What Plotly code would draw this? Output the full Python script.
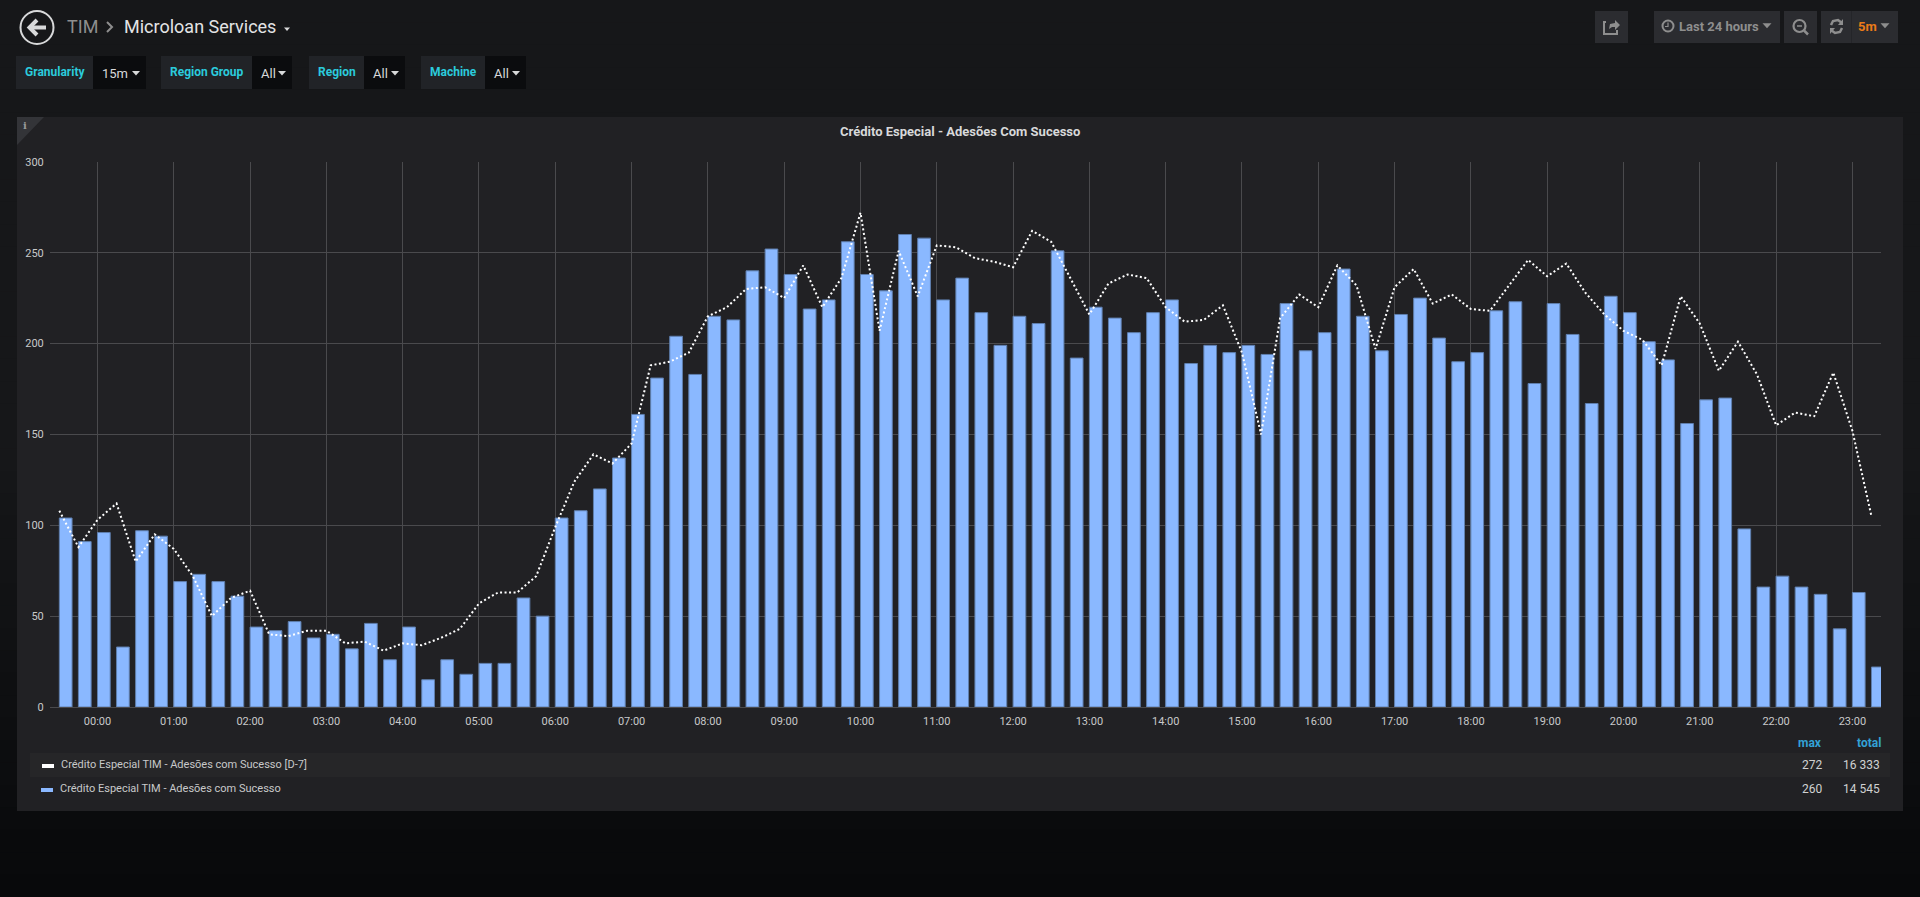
import pandas as pd
import plotly.graph_objects as go

W = 1920
H = 897

# one value per 15 minutes starting 23:30
success = [104, 91, 96, 33, 97, 94, 69, 73, 69, 61, 44, 42, 47, 38, 40, 32, 46, 26, 44, 15,
           26, 18, 24, 24, 60, 50, 104, 108, 120, 137, 161, 181, 204, 183, 215, 213, 240, 252, 238, 219,
           224, 256, 238, 229, 260, 258, 224, 236, 217, 199, 215, 211, 251, 192, 220, 214, 206, 217, 224, 189,
           199, 195, 199, 194, 222, 196, 206, 241, 215, 196, 216, 225, 203, 190, 195, 218, 223, 178, 222, 205,
           167, 226, 217, 201, 191, 156, 169, 170, 98, 66, 72, 66, 62, 43, 63, 22]
success_d7 = [108, 88, 103, 112, 80, 95, 87, 72, 50, 60, 64, 40, 39, 42, 42, 35, 36, 31, 35, 34,
              38, 43, 57, 63, 63, 72, 99, 124, 139, 134, 145, 188, 190, 195, 215, 220, 230, 231, 225, 243,
              220, 236, 272, 207, 251, 226, 254, 253, 247, 245, 242, 262, 256, 236, 216, 233, 238, 236, 220, 212,
              213, 221, 195, 150, 214, 227, 220, 243, 232, 197, 231, 241, 222, 227, 219, 218, 232, 246, 237, 244,
              228, 216, 207, 202, 188, 226, 211, 185, 201, 183, 155, 162, 160, 184, 152, 105]

start_time = "2019-01-01 23:30"
y_ticks = [0, 50, 100, 150, 200, 250, 300]
series_names = ["Crédito Especial TIM - Adesões com Sucesso [D-7]",
                "Crédito Especial TIM - Adesões com Sucesso"]
series_max = ["272", "260"]
series_total = ["16 333", "14 545"]
panel_title = "Crédito Especial - Adesões Com Sucesso"
variables = [("Granularity", "15m", 16, 93, 146),
             ("Region Group", "All", 161, 252, 292),
             ("Region", "All", 309, 364, 405),
             ("Machine", "All", 421, 485, 526)]

BAR = "#8ab8ff"
TEXT = "#d8d9da"
CYAN = "#2bcbdc"
FONT = "Roboto"


def px(x):
    return x / W


def py(y):
    return 1 - y / H


def rect(x0, y0, x1, y1, color, layer="below"):
    return dict(type="rect", xref="paper", yref="paper", x0=px(x0), x1=px(x1), y0=py(y0), y1=py(y1),
                fillcolor=color, line_width=0, layer=layer)


def poly(points, fill=None, line=None, width=1.5):
    path = "M " + " L ".join(f"{px(a)},{py(b)}" for a, b in points)
    if fill:
        path += " Z"
    return dict(type="path", xref="paper", yref="paper", path=path, fillcolor=fill,
                line=dict(color=line or "rgba(0,0,0,0)", width=width if line else 0), layer="above")


def ring(cx, cy, r, color, width=2):
    return dict(type="circle", xref="paper", yref="paper", x0=px(cx - r), x1=px(cx + r),
                y0=py(cy + r), y1=py(cy - r), line=dict(color=color, width=width), layer="above")


def caret(cx, cy, color="#d8d9da", size=4):
    return poly([(cx - size, cy - size / 2), (cx + size, cy - size / 2), (cx, cy + size / 2 + 0.5)], fill=color)


def label(x, y, text, size=12, color=TEXT, anchor="left", bold=False):
    return dict(xref="paper", yref="paper", x=px(x), y=py(y), text=f"<b>{text}</b>" if bold else text,
                showarrow=False, xanchor=anchor, yanchor="middle", borderpad=0,
                font=dict(family=FONT, size=size, color=color))


shapes = []
notes = []

# page background, flat on the upper half then fades down to almost black
steps = 40
for i in range(steps):
    t = max(0, (i / (steps - 1) - 0.5) * 2)
    c = [round(a + (b - a) * t) for a, b in zip((22, 23, 25), (8, 9, 11))]
    shapes.append(rect(0, H * i / steps, W, H * (i + 1) / steps + 1, f"rgb({c[0]},{c[1]},{c[2]})"))

# panel
shapes.append(rect(17, 117, 1903, 811, "#212124"))
shapes.append(rect(30, 753, 1890, 777, "#262628"))
shapes.append(poly([(17, 117), (44, 117), (17, 145)], fill="#333438"))
shapes[-1]["layer"] = "below"
notes.append(label(24.5, 125, "i", size=10, color="#9a9a9a", anchor="center", bold=True))
notes[-1]["font"]["family"] = "DejaVu Serif"
notes.append(label(959.5, 131, panel_title, size=13, anchor="center", bold=True))

# header left
shapes.append(ring(37, 27.5, 16.5, "#d8d9da", 2))
shapes.append(poly([(46, 27.5), (30, 27.5)], line="#d8d9da", width=4))
shapes.append(poly([(37, 20), (29.5, 27.5), (37, 35)], line="#d8d9da", width=4))
notes.append(label(66, 27, "TIM", size=18, color="#8e8e8e"))
shapes.append(poly([(107, 22), (112, 27), (107, 32)], line="#8e8e8e", width=2))
notes.append(label(122.5, 27, "Microloan Services", size=18, color="#e3e4e5"))
shapes.append(caret(287, 29, size=3))

# template variables
for name, value, x0, x1, x2 in variables:
    shapes.append(rect(x0, 56, x1, 89, "#212327"))
    shapes.append(rect(x1, 56, x2, 89, "#0b0c0e"))
    notes.append(label((x0 + x1) / 2, 72.5, name, size=12, color=CYAN, anchor="center", bold=True))
    notes.append(label(x1 + 7.5, 73, value, size=13, color=TEXT))
    shapes.append(caret(x2 - 10, 73))

# header right buttons
for x0, x1 in [(1595, 1628), (1654, 1780), (1784, 1817), (1821, 1898)]:
    shapes.append(rect(x0, 11, x1, 43, "#2b2c30"))
shapes.append(rect(1851, 11, 1852, 43, "#242529"))
GREY = "#8e8e8e"
shapes.append(poly([(1606, 22), (1604, 22), (1604, 34), (1617, 34), (1617, 30)], line=GREY, width=2))
shapes.append(poly([(1609, 29), (1610, 24), (1615, 23), (1615, 20), (1620, 25), (1615, 30), (1615, 27), (1612, 27)],
                   fill=GREY))
shapes.append(ring(1668, 26, 5.5, GREY, 2))
shapes.append(poly([(1668, 22.5), (1668, 26.5), (1665, 26.5)], line=GREY, width=1.2))
notes.append(label(1677.5, 26.5, "Last 24 hours", size=13, color=GREY, bold=True))
shapes.append(caret(1767, 25.5, color=GREY, size=4.5))
shapes.append(ring(1799.5, 26, 6, GREY, 2.2))
shapes.append(poly([(1804, 30.5), (1808, 34.5)], line=GREY, width=2.5))
shapes.append(poly([(1797, 26), (1802, 26)], line=GREY, width=1.5))
shapes.append(poly([(1831, 25), (1833, 21), (1838, 20), (1842, 23)], line=GREY, width=2.5))
shapes.append(poly([(1843, 19), (1843, 25), (1838, 25)], fill=GREY))
shapes.append(poly([(1842, 28), (1840, 32), (1835, 33), (1831, 30)], line=GREY, width=2.5))
shapes.append(poly([(1830, 34), (1830, 28), (1835, 28)], fill=GREY))
notes.append(label(1856.5, 26.5, "5m", size=13, color="#eb7b18", bold=True))
shapes.append(caret(1885, 25.5, color=GREY, size=4.5))

# legend table
notes.append(label(1822.5, 743, "max", size=12, color="#33a2d6", anchor="right", bold=True))
notes.append(label(1881.5, 743, "total", size=12, color="#33a2d6", anchor="right", bold=True))
for i, color in enumerate(["#ffffff", BAR]):
    row_y = 764.5 + 24 * i
    left = 60 - 1 * i
    shapes.append(rect(left - 18, row_y - 0.5, left - 6, row_y + 3.5, color, layer="above"))
    notes.append(label(left, row_y, series_names[i], size=11, color="#c8c9ca"))
    notes.append(label(1822.5, row_y, series_max[i], size=12, color="#d0d1d2", anchor="right"))
    notes.append(label(1881, row_y, series_total[i], size=12, color="#d0d1d2", anchor="right"))

times = pd.date_range(start_time, periods=len(success), freq="15min")
half_step = pd.Timedelta(minutes=7.5)

fig = go.Figure()
fig.add_trace(go.Bar(x=times, y=success, name=series_names[1], width=600000, offset=0,
                     marker=dict(color=BAR, line=dict(color="#5f7fae", width=1))))
fig.add_trace(go.Scatter(x=times, y=success_d7, name=series_names[0], mode="lines",
                         line=dict(color="#ffffff", width=2, dash="2px,2.5px")))

fig.update_layout(
    width=W, height=H, autosize=False, showlegend=False,
    margin=dict(l=0, r=0, t=0, b=0),
    paper_bgcolor="#161719", plot_bgcolor="rgba(0,0,0,0)",
    font=dict(family=FONT, size=11, color="#c8c9ca"),
    shapes=shapes, annotations=notes,
    xaxis=dict(domain=[px(49.8), px(1881)], type="date", automargin=False,
               range=[times[0] - half_step, times[-1] + half_step],
               dtick=3600000, tick0="2019-01-02 00:00", tickformat="%H:%M",
               showgrid=True, gridcolor="#4a4a4d", gridwidth=1, showline=False, zeroline=False,
               ticks="", ticklabelstandoff=6, tickfont=dict(size=11, color="#c8c9ca")),
    yaxis=dict(domain=[py(707), py(161.8)], range=[0, 300], tickvals=y_ticks, automargin=False,
               showgrid=True, gridcolor="#4a4a4d", gridwidth=1, zeroline=True, zerolinecolor="#4a4a4d",
               zerolinewidth=1, showline=False, ticks="", ticklabelstandoff=5,
               tickfont=dict(size=11, color="#c8c9ca")),
)

fig.write_html("out.html", config={"displayModeBar": False},
               post_script="document.body.style.margin='0';document.body.style.overflow='hidden';")
